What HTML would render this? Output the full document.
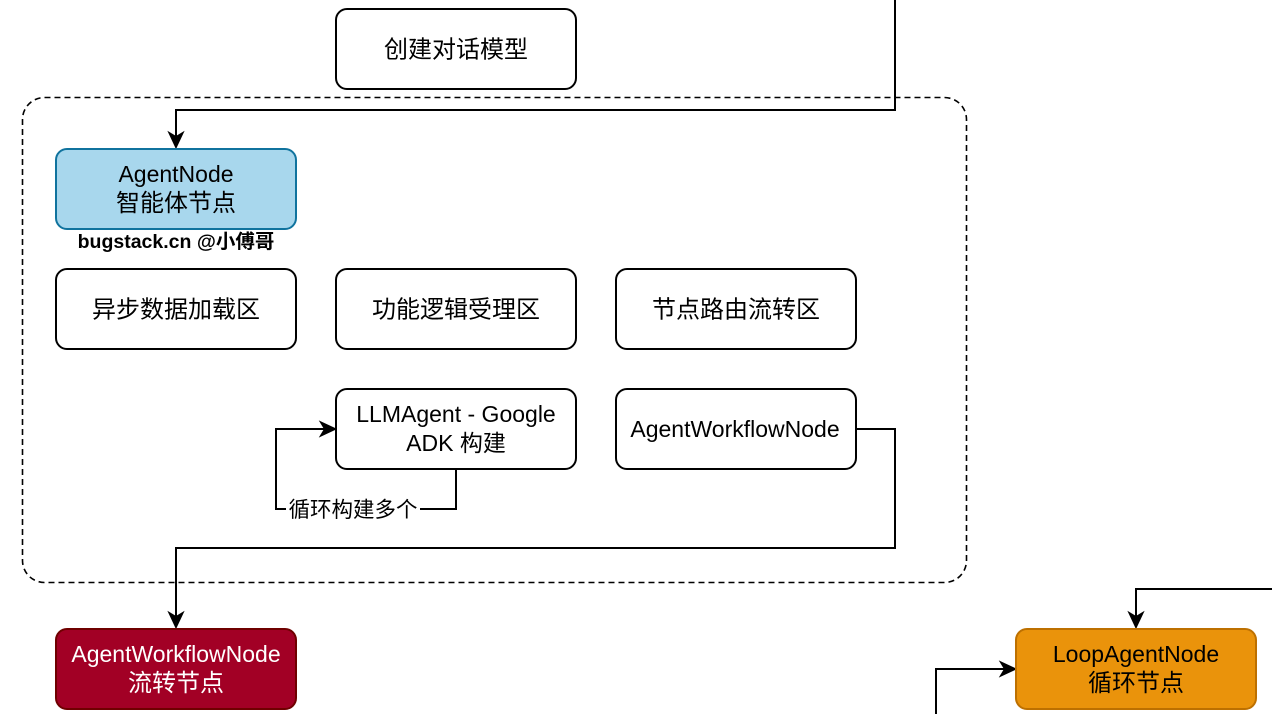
<!DOCTYPE html>
<html>
<head>
<meta charset="utf-8">
<style>
  html, body { margin: 0; padding: 0; background: #ffffff; }
  body { width: 1272px; height: 714px; overflow: hidden; }
  svg { display: block; }
  text { font-family: "Liberation Sans", "Noto Sans CJK SC", sans-serif; }
</style>
</head>
<body>
<svg width="1272" height="714" viewBox="0 0 1272 714" xmlns="http://www.w3.org/2000/svg">
  <!-- dashed container -->
  <rect x="22.5" y="97.5" width="944" height="485" rx="22" ry="22" fill="none" stroke="#000" stroke-width="1.6" stroke-dasharray="6 4"/>

  <!-- top box -->
  <rect x="336" y="9" width="240" height="80" rx="11" ry="11" fill="#fff" stroke="#000" stroke-width="2"/>
  <text x="456" y="57.5" font-size="24" text-anchor="middle" fill="#000">创建对话模型</text>

  <!-- connector top -> AgentNode -->
  <polyline points="895,0 895,110 176,110 176,136" fill="none" stroke="#000" stroke-width="2"/>
  <path d="M176,148 L168.5,132 L176,136.5 L183.5,132 Z" fill="#000" stroke="#000" stroke-width="1"/>

  <!-- AgentNode -->
  <rect x="56" y="149" width="240" height="80" rx="11" ry="11" fill="#a8d7ed" stroke="#10739e" stroke-width="2"/>
  <text x="176" y="182" font-size="23" text-anchor="middle" fill="#000">AgentNode</text>
  <text x="176" y="211" font-size="24" text-anchor="middle" fill="#000">智能体节点</text>

  <text x="176" y="248" font-size="19.5" font-weight="bold" text-anchor="middle" fill="#000">bugstack.cn @小傅哥</text>

  <!-- row boxes -->
  <rect x="56" y="269" width="240" height="80" rx="11" ry="11" fill="#fff" stroke="#000" stroke-width="2"/>
  <text x="176" y="317.5" font-size="24" text-anchor="middle" fill="#000">异步数据加载区</text>

  <rect x="336" y="269" width="240" height="80" rx="11" ry="11" fill="#fff" stroke="#000" stroke-width="2"/>
  <text x="456" y="317.5" font-size="24" text-anchor="middle" fill="#000">功能逻辑受理区</text>

  <rect x="616" y="269" width="240" height="80" rx="11" ry="11" fill="#fff" stroke="#000" stroke-width="2"/>
  <text x="736" y="317.5" font-size="24" text-anchor="middle" fill="#000">节点路由流转区</text>

  <!-- loop connector -->
  <polyline points="456,469 456,509 276,509 276,429 324,429" fill="none" stroke="#000" stroke-width="2"/>
  <path d="M336,429 L320,421.5 L324.5,429 L320,436.5 Z" fill="#000" stroke="#000" stroke-width="1"/>
  <rect x="286" y="497" width="134" height="24" fill="#fff"/>
  <text x="353" y="517" font-size="21.5" text-anchor="middle" fill="#000">循环构建多个</text>

  <!-- LLMAgent box -->
  <rect x="336" y="389" width="240" height="80" rx="11" ry="11" fill="#fff" stroke="#000" stroke-width="2"/>
  <text x="456" y="422" font-size="23" text-anchor="middle" fill="#000">LLMAgent - Google</text>
  <text x="456" y="451" font-size="23" text-anchor="middle" fill="#000">ADK 构建</text>

  <!-- AgentWorkflowNode box -->
  <rect x="616" y="389" width="240" height="80" rx="11" ry="11" fill="#fff" stroke="#000" stroke-width="2"/>
  <text x="735" y="437" font-size="23" text-anchor="middle" fill="#000">AgentWorkflowNode</text>

  <!-- workflow connector -->
  <polyline points="856,429 895,429 895,548 176,548 176,616" fill="none" stroke="#000" stroke-width="2"/>
  <path d="M176,628 L168.5,612 L176,616.5 L183.5,612 Z" fill="#000" stroke="#000" stroke-width="1"/>

  <!-- red node -->
  <rect x="56" y="629" width="240" height="80" rx="11" ry="11" fill="#a20025" stroke="#6f0000" stroke-width="2"/>
  <text x="176" y="662" font-size="23" text-anchor="middle" fill="#fff">AgentWorkflowNode</text>
  <text x="176" y="691" font-size="24" text-anchor="middle" fill="#fff">流转节点</text>

  <!-- right connectors -->
  <polyline points="1272,589 1136,589 1136,616" fill="none" stroke="#000" stroke-width="2"/>
  <path d="M1136,628 L1128.5,612 L1136,616.5 L1143.5,612 Z" fill="#000" stroke="#000" stroke-width="1"/>

  <polyline points="936,714 936,669 1004,669" fill="none" stroke="#000" stroke-width="2"/>
  <path d="M1016,669 L1000,661.5 L1004.5,669 L1000,676.5 Z" fill="#000" stroke="#000" stroke-width="1"/>

  <!-- LoopAgentNode -->
  <rect x="1016" y="629" width="240" height="80" rx="11" ry="11" fill="#ea930b" stroke="#bd7000" stroke-width="2"/>
  <text x="1136" y="662" font-size="23" text-anchor="middle" fill="#000">LoopAgentNode</text>
  <text x="1136" y="691" font-size="24" text-anchor="middle" fill="#000">循环节点</text>
</svg>
</body>
</html>
